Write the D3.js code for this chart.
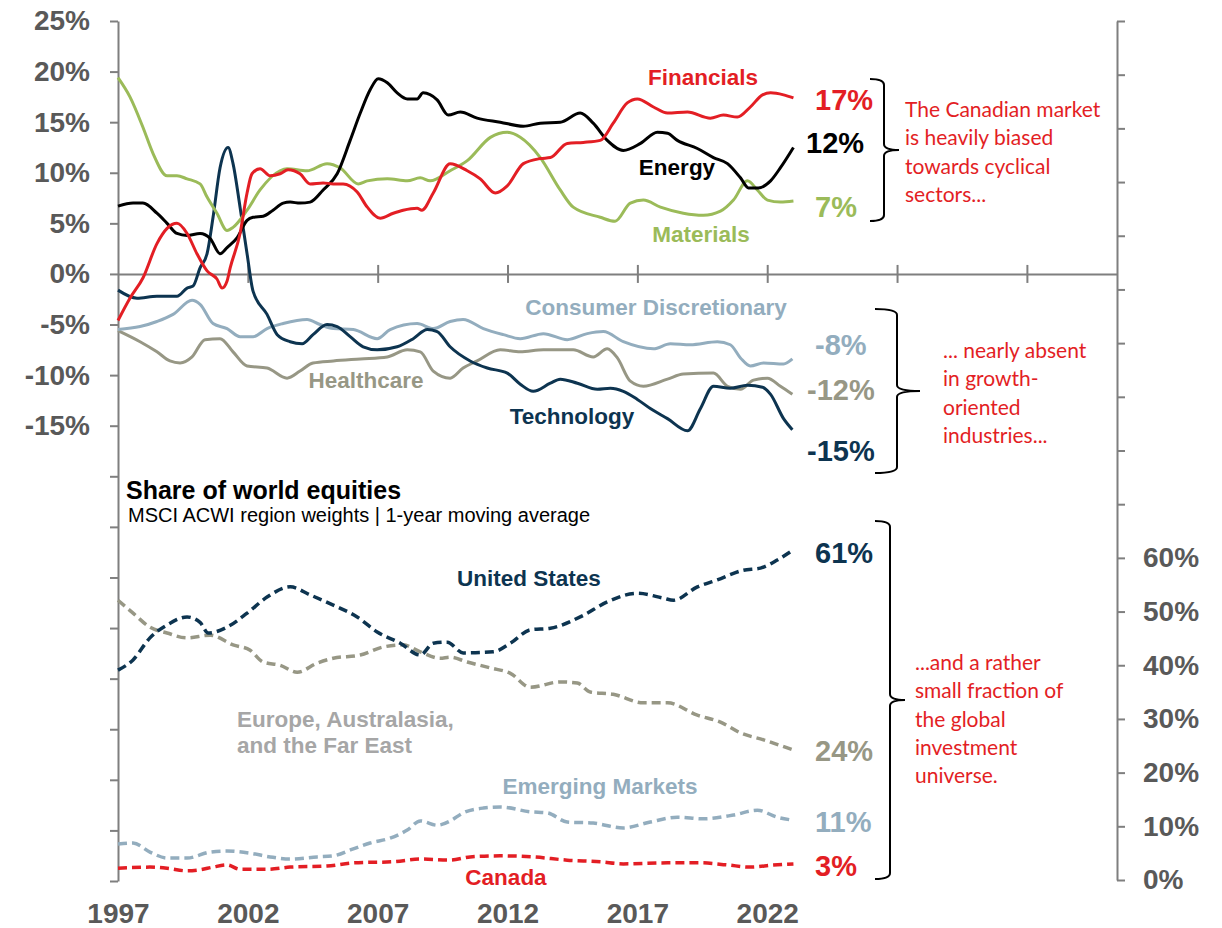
<!DOCTYPE html>
<html>
<head>
<meta charset="utf-8">
<script src="https://cdn.jsdelivr.net/npm/d3@7"></script>
<style>
  body { margin: 0; background: #fff; }
  svg { display: block; }
</style>
</head>
<body>
<div class="container"></div>
<script>
// sector weights, Canada minus world (% points), [year, value]
var financials = [[1997.0,-4.6],[1997.46,-2.4],[1997.96,-0.4],[1998.5,3.0],[1998.89,4.5],[1999.27,5.0],[1999.66,4.0],[2000.04,2.0],[2000.43,0.3],[2000.81,-0.5],[2001.01,-1.4],[2001.2,-0.7],[2001.32,0.6],[2001.7,4.0],[2001.97,8.0],[2002.16,9.9],[2002.47,10.4],[2002.86,9.7],[2003.24,9.9],[2003.55,10.3],[2004.01,9.9],[2004.4,8.9],[2004.9,9.0],[2005.29,8.9],[2005.67,8.9],[2006.21,8.1],[2006.6,6.6],[2007.1,5.5],[2007.6,6.0],[2007.98,6.3],[2008.52,6.5],[2008.7,6.3],[2009.14,8.0],[2009.79,10.9],[2010.45,10.2],[2010.95,9.4],[2011.53,8.0],[2011.99,8.7],[2012.61,10.9],[2013.26,11.4],[2013.65,11.5],[2014.3,12.9],[2014.92,13.0],[2015.57,13.2],[2016.07,14.9],[2016.61,16.9],[2017.0,17.3],[2017.62,16.5],[2018.16,15.9],[2018.93,16.0],[2019.81,15.4],[2020.31,15.7],[2020.85,15.5],[2021.35,16.5],[2021.82,17.7],[2022.13,17.9],[2022.63,17.7],[2023.01,17.4]];
var energy = [[1997.0,6.7],[1997.58,7.0],[1997.96,7.0],[1998.5,6.0],[1998.89,5.0],[1999.27,4.0],[1999.66,3.8],[2000.16,4.0],[2000.55,3.5],[2000.93,2.0],[2001.2,2.6],[2001.59,3.6],[2001.97,5.3],[2002.2,5.6],[2002.59,5.7],[2002.97,6.3],[2003.36,7.0],[2003.63,7.1],[2004.01,7.0],[2004.4,7.1],[2004.9,8.3],[2005.44,9.9],[2005.94,13.2],[2006.33,15.9],[2006.71,18.2],[2007.02,19.3],[2007.37,18.9],[2007.75,17.9],[2008.14,17.3],[2008.52,17.3],[2008.75,17.9],[2009.29,17.2],[2009.72,15.7],[2010.18,16.0],[2010.83,15.4],[2011.72,15.0],[2012.61,14.6],[2013.26,14.9],[2014.03,15.0],[2014.8,15.9],[2015.3,14.9],[2015.84,13.2],[2016.46,12.2],[2017.12,12.9],[2017.77,14.0],[2018.16,13.9],[2018.54,13.2],[2019.31,12.4],[2019.93,11.5],[2020.47,10.9],[2020.97,9.5],[2021.28,8.5],[2021.66,8.5],[2022.13,9.2],[2022.51,10.5],[2023.01,12.5]];
var materials = [[1997.0,19.4],[1997.46,17.5],[1997.96,14.5],[1998.35,11.9],[1998.89,9.7],[1999.27,9.7],[1999.66,9.4],[2000.16,8.9],[2000.43,7.6],[2000.81,6.0],[2001.2,4.3],[2001.43,4.6],[2001.97,6.3],[2002.47,8.3],[2003.24,10.2],[2003.51,10.4],[2004.28,10.2],[2005.05,10.9],[2005.55,10.5],[2006.25,8.9],[2006.6,9.2],[2007.37,9.4],[2008.14,9.2],[2008.64,9.5],[2009.02,9.2],[2009.79,10.2],[2010.45,11.2],[2011.34,13.5],[2011.99,14.0],[2012.49,13.5],[2013.26,11.5],[2014.03,8.3],[2014.53,6.6],[2015.57,5.6],[2016.14,5.2],[2016.73,7.0],[2017.23,7.3],[2017.89,6.6],[2018.77,6.0],[2019.54,5.8],[2020.2,6.2],[2020.7,7.3],[2021.24,9.2],[2021.62,8.3],[2022.01,7.3],[2022.51,7.1],[2023.01,7.2]];
var technology = [[1997.0,-1.6],[1997.73,-2.4],[1998.5,-2.2],[1999.27,-2.2],[1999.66,-1.4],[1999.89,-1.2],[2000.16,0.6],[2000.43,2.0],[2000.66,5.6],[2000.93,10.5],[2001.24,12.5],[2001.43,10.9],[2001.7,6.6],[2001.97,2.0],[2002.2,-1.7],[2002.74,-4.0],[2003.13,-6.0],[2003.63,-6.7],[2004.09,-6.9],[2004.51,-6.0],[2005.05,-5.0],[2005.44,-5.2],[2005.94,-6.2],[2006.44,-7.2],[2006.98,-7.5],[2007.75,-7.2],[2008.37,-6.4],[2008.91,-5.5],[2009.29,-5.7],[2009.79,-7.2],[2010.56,-8.6],[2011.22,-9.3],[2011.99,-9.8],[2012.49,-10.9],[2012.99,-11.6],[2013.65,-10.8],[2014.03,-10.4],[2014.69,-10.8],[2015.46,-11.4],[2015.96,-11.3],[2016.46,-11.6],[2017.0,-12.4],[2017.5,-13.3],[2018.16,-14.3],[2018.93,-15.5],[2019.43,-13.3],[2019.93,-11.1],[2020.58,-11.3],[2021.24,-11.0],[2021.82,-11.2],[2022.13,-11.9],[2022.63,-14.3],[2022.97,-15.4]];
var consumerDisc = [[1997.0,-5.5],[1997.85,-5.2],[1998.5,-4.7],[1999.12,-4.0],[1999.85,-2.6],[2000.16,-3.0],[2000.66,-4.9],[2001.2,-5.4],[2001.7,-6.2],[2002.2,-6.2],[2002.74,-5.4],[2003.36,-4.9],[2004.28,-4.5],[2004.78,-5.0],[2005.29,-5.4],[2006.06,-5.5],[2006.98,-6.4],[2007.48,-5.5],[2008.52,-4.9],[2009.14,-5.4],[2009.79,-4.7],[2010.29,-4.5],[2011.07,-5.4],[2011.84,-6.0],[2012.49,-6.4],[2013.38,-5.9],[2014.3,-6.5],[2015.07,-5.9],[2015.69,-5.7],[2016.46,-6.7],[2017.62,-7.4],[2018.27,-6.9],[2019.04,-7.0],[2020.08,-6.7],[2020.58,-7.0],[2020.97,-8.3],[2021.35,-9.1],[2021.86,-8.8],[2022.63,-8.9],[2022.97,-8.4]];
var healthcare = [[1997.0,-5.6],[1997.85,-6.7],[1998.5,-7.7],[1999.0,-8.6],[1999.39,-8.8],[1999.85,-8.2],[2000.35,-6.5],[2000.93,-6.4],[2001.43,-7.7],[2001.97,-9.1],[2002.74,-9.3],[2003.51,-10.3],[2004.01,-9.6],[2004.51,-8.8],[2005.29,-8.6],[2006.33,-8.4],[2007.37,-8.2],[2008.14,-7.5],[2008.64,-7.7],[2009.14,-9.6],[2009.79,-10.3],[2010.29,-9.3],[2010.83,-8.6],[2011.72,-7.5],[2012.49,-7.7],[2013.38,-7.5],[2014.53,-7.5],[2015.3,-8.2],[2015.84,-7.4],[2016.23,-8.3],[2016.73,-10.6],[2017.23,-11.1],[2018.16,-10.4],[2018.77,-9.9],[2019.93,-9.8],[2020.47,-11.1],[2020.97,-11.4],[2021.47,-10.5],[2022.01,-10.3],[2022.51,-11.1],[2022.97,-11.9]];

// regional share of world equities (%), [year, value]
var unitedStates = [[1997.0,39.1],[1997.58,41.0],[1998.23,45.1],[1998.89,47.5],[1999.66,49.0],[2000.16,48.0],[2000.47,46.0],[2001.2,47.1],[2001.97,49.7],[2002.74,52.7],[2003.63,54.6],[2004.4,53.1],[2005.29,51.2],[2006.21,49.0],[2006.98,46.2],[2007.87,44.1],[2008.64,41.9],[2009.14,44.1],[2009.68,44.3],[2010.29,42.3],[2011.45,42.5],[2012.11,44.1],[2012.88,46.6],[2013.65,46.9],[2014.92,49.3],[2015.84,51.8],[2017.0,53.4],[2018.0,52.5],[2018.39,52.1],[2019.31,54.6],[2020.08,55.9],[2021.08,57.7],[2021.74,58.1],[2022.39,59.6],[2023.01,61.5]];
var eafe = [[1997.0,52.1],[1997.58,49.7],[1998.23,47.1],[1998.89,46.0],[1999.66,45.1],[2000.55,45.6],[2001.43,43.8],[2002.09,42.8],[2002.59,40.6],[2003.24,40.0],[2003.9,38.7],[2004.67,40.4],[2005.29,41.3],[2006.33,41.9],[2007.21,43.4],[2007.98,43.8],[2008.64,42.5],[2009.41,41.3],[2009.79,41.5],[2010.45,40.6],[2011.34,39.5],[2012.11,38.5],[2012.88,35.9],[2014.03,36.9],[2014.69,36.7],[2015.19,35.0],[2016.07,34.6],[2017.23,33.0],[2018.16,33.0],[2019.31,30.7],[2020.2,29.4],[2020.97,27.4],[2021.86,26.1],[2023.01,24.2]];
var emerging = [[1997.0,6.7],[1997.58,6.9],[1998.23,5.2],[1998.89,4.1],[1999.66,4.1],[2000.55,5.2],[2001.2,5.4],[2002.09,5.0],[2002.86,4.3],[2003.63,3.9],[2004.67,4.3],[2005.29,4.5],[2006.06,5.8],[2006.71,6.9],[2007.48,7.8],[2008.14,9.3],[2008.64,11.0],[2009.29,10.2],[2009.79,11.0],[2010.29,12.5],[2011.07,13.4],[2011.72,13.6],[2012.88,12.7],[2013.53,12.5],[2014.3,10.8],[2015.3,10.6],[2016.46,9.7],[2017.5,10.8],[2018.54,11.7],[2019.54,11.4],[2020.7,12.1],[2021.62,13.0],[2022.39,11.7],[2022.9,11.2]];
var canada = [[1997.0,2.2],[1998.23,2.4],[1998.89,2.2],[1999.66,1.7],[2000.16,1.9],[2000.66,2.4],[2001.2,2.8],[2001.7,2.0],[2002.74,2.0],[2003.63,2.4],[2005.05,2.6],[2006.06,3.2],[2007.6,3.4],[2008.64,3.9],[2009.79,3.7],[2010.56,4.3],[2011.72,4.5],[2012.99,4.3],[2014.3,3.7],[2015.57,3.4],[2016.46,3.0],[2018.16,3.2],[2019.43,3.2],[2020.47,2.8],[2021.35,2.4],[2022.24,2.8],[2023.01,3.0]];

var yearTicks = [1997, 2002, 2007, 2012, 2017, 2022];
var zeroLineTicks = [2002, 2007, 2012, 2017, 2022, 2027, 2032];
var leftTicks = d3.range(-60, 26, 5);
var rightTicks = d3.range(0, 161, 10);

var red = "#E31E24", navy = "#0D3450", green = "#9BBB59", steel = "#93ADBE", olive = "#979785";
var axisGrey = "#7F7F7F", labelGrey = "#595959";
var boldFont = "'Liberation Sans', Arial, sans-serif";
var noteFont = "Lato, 'Open Sans', sans-serif";

var w = 1222, h = 928;

var svg = d3.select(".container")
    .append("svg")
    .attr("width", w)
    .attr("height", h);

var x = d3.scaleLinear().domain([1997, 2035.47]).range([118, 1117]);
var yL = d3.scaleLinear().domain([-60, 25]).range([881, 21]);
var yR = d3.scaleLinear().domain([0, 160]).range([880, 21]);

// left axis
var leftAxis = svg.append("g")
    .attr("transform", "translate(118,0)")
    .call(d3.axisLeft(yL).tickValues(leftTicks).tickSize(8).tickSizeOuter(0).tickPadding(20)
        .tickFormat(function(d) { return d >= -15 ? d + "%" : ""; }));

// right axis
var rightAxis = svg.append("g")
    .attr("transform", "translate(1117,0)")
    .call(d3.axisRight(yR).tickValues(rightTicks).tickSize(8).tickSizeOuter(0).tickPadding(18)
        .tickFormat(function(d) { return d <= 60 ? d + "%" : ""; }));

// zero line with crossing ticks
var zeroAxis = svg.append("g")
    .attr("transform", "translate(0," + yL(0) + ")")
    .call(d3.axisBottom(x).tickValues(zeroLineTicks).tickSize(0).tickSizeOuter(0).tickFormat(""));
zeroAxis.selectAll(".tick line").attr("y1", -9).attr("y2", 9);

// year labels
var yearAxis = svg.append("g")
    .attr("transform", "translate(0,881)")
    .call(d3.axisBottom(x).tickValues(yearTicks).tickSize(0).tickPadding(22).tickFormat(d3.format("d")));
yearAxis.select(".domain").remove();

[leftAxis, rightAxis, zeroAxis, yearAxis].forEach(function(g) {
    g.selectAll("path, line").attr("stroke", axisGrey).attr("stroke-width", 2);
    g.attr("font-family", boldFont).attr("font-size", 28).attr("font-weight", "bold");
    g.selectAll("text").attr("fill", labelGrey);
});

var lineL = d3.line()
    .x(function(d) { return x(d[0]); })
    .y(function(d) { return yL(d[1]); })
    .curve(d3.curveMonotoneX);

var lineR = d3.line()
    .x(function(d) { return x(d[0]); })
    .y(function(d) { return yR(d[1]); })
    .curve(d3.curveMonotoneX);

var sectors = [
    {data: healthcare, color: olive},
    {data: consumerDisc, color: steel},
    {data: technology, color: navy},
    {data: materials, color: green},
    {data: energy, color: "#000"},
    {data: financials, color: red}
];

svg.selectAll(".sector")
    .data(sectors)
    .enter()
    .append("path")
    .attr("class", "sector")
    .attr("d", function(d) { return lineL(d.data); })
    .attr("fill", "none")
    .attr("stroke", function(d) { return d.color; })
    .attr("stroke-width", 3)
    .attr("stroke-linejoin", "round");

var regions = [
    {data: eafe, color: olive},
    {data: unitedStates, color: navy},
    {data: emerging, color: steel},
    {data: canada, color: red}
];

svg.selectAll(".region")
    .data(regions)
    .enter()
    .append("path")
    .attr("class", "region")
    .attr("d", function(d) { return lineR(d.data); })
    .attr("fill", "none")
    .attr("stroke", function(d) { return d.color; })
    .attr("stroke-width", 3.5)
    .attr("stroke-dasharray", "9,5");

// series names and end values
var labels = [
    {t: "Financials", x: 703, y: 85, c: red, s: 22.5, a: "middle"},
    {t: "Energy", x: 677, y: 175, c: "#000", s: 22.5, a: "middle"},
    {t: "Materials", x: 701, y: 242, c: green, s: 22.5, a: "middle"},
    {t: "Consumer Discretionary", x: 656, y: 315, c: steel, s: 22.5, a: "middle"},
    {t: "Healthcare", x: 366, y: 388, c: olive, s: 22.5, a: "middle"},
    {t: "Technology", x: 572, y: 424, c: navy, s: 22.5, a: "middle"},
    {t: "United States", x: 529, y: 586, c: navy, s: 22.5, a: "middle"},
    {t: "Europe, Australasia,", x: 237, y: 727, c: "#A6A6A6", s: 22.5, a: "start"},
    {t: "and the Far East", x: 237, y: 753, c: "#A6A6A6", s: 22.5, a: "start"},
    {t: "Emerging Markets", x: 600, y: 794, c: steel, s: 22.5, a: "middle"},
    {t: "Canada", x: 506, y: 885, c: red, s: 22.5, a: "middle"},
    {t: "17%", x: 815, y: 110, c: red, s: 29, a: "start"},
    {t: "12%", x: 806, y: 153, c: "#000", s: 29, a: "start"},
    {t: "7%", x: 815, y: 217, c: green, s: 29, a: "start"},
    {t: "-8%", x: 815, y: 355, c: steel, s: 29, a: "start"},
    {t: "-12%", x: 807, y: 400, c: olive, s: 29, a: "start"},
    {t: "-15%", x: 807, y: 461, c: navy, s: 29, a: "start"},
    {t: "61%", x: 815, y: 563, c: navy, s: 29, a: "start"},
    {t: "24%", x: 815, y: 761, c: olive, s: 29, a: "start"},
    {t: "11%", x: 815, y: 832, c: steel, s: 29, a: "start"},
    {t: "3%", x: 815, y: 876, c: red, s: 29, a: "start"}
];

svg.selectAll(".lbl")
    .data(labels)
    .enter()
    .append("text")
    .attr("class", "lbl")
    .attr("x", function(d) { return d.x; })
    .attr("y", function(d) { return d.y; })
    .attr("text-anchor", function(d) { return d.a; })
    .attr("fill", function(d) { return d.c; })
    .attr("font-size", function(d) { return d.s; })
    .attr("font-weight", "bold")
    .attr("font-family", boldFont)
    .text(function(d) { return d.t; });

// lower panel heading
svg.append("text")
    .attr("x", 126).attr("y", 499)
    .attr("font-family", boldFont).attr("font-weight", "bold").attr("font-size", 25)
    .attr("fill", "#000")
    .text("Share of world equities");

svg.append("text")
    .attr("x", 128).attr("y", 522)
    .attr("font-family", boldFont).attr("font-size", 20)
    .attr("fill", "#000")
    .text("MSCI ACWI region weights | 1-year moving average");

// curly braces
function brace(x0, xv, tip, top, mid, bottom) {
    var r = 6;
    return "M" + x0 + "," + top +
        " Q" + xv + "," + top + " " + xv + "," + (top + r) +
        " L" + xv + "," + (mid - r) +
        " Q" + xv + "," + mid + " " + tip + "," + mid +
        " Q" + xv + "," + mid + " " + xv + "," + (mid + r) +
        " L" + xv + "," + (bottom - r) +
        " Q" + xv + "," + bottom + " " + x0 + "," + bottom;
}

[[870, 884, 899, 79, 150, 221], [875, 897, 920, 309, 391, 473], [875, 890, 905, 521, 700, 879]].forEach(function(b) {
    svg.append("path")
        .attr("d", brace.apply(null, b))
        .attr("fill", "none")
        .attr("stroke", "#000")
        .attr("stroke-width", 2);
});

// annotations
var notes = [
    {x: 905, y: 117, lines: ["The Canadian market", "is heavily biased", "towards cyclical", "sectors..."]},
    {x: 943, y: 358, lines: ["... nearly absent", "in growth-", "oriented", "industries..."]},
    {x: 915, y: 670, lines: ["...and a rather", "small fraction of", "the global", "investment", "universe."]}
];

notes.forEach(function(n) {
    var t = svg.append("text")
        .attr("font-family", noteFont)
        .attr("font-size", 21)
        .attr("fill", red);
    n.lines.forEach(function(l, i) {
        t.append("tspan")
            .attr("x", n.x)
            .attr("y", n.y + i * 28.3)
            .text(l);
    });
});
</script>
</body>
</html>
